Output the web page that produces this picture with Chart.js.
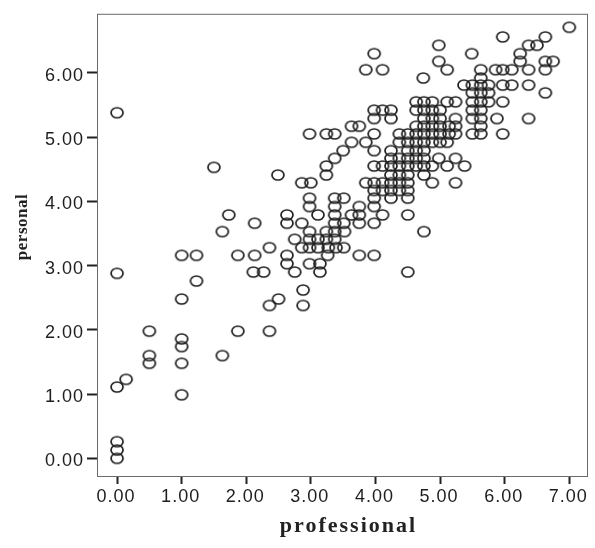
<!DOCTYPE html>
<html>
<head>
<meta charset="utf-8">
<script src="https://cdn.jsdelivr.net/npm/chart.js@4"></script>
<style>
  html, body { margin: 0; padding: 0; background: #fff; }
  #chart { display: block; }
</style>
</head>
<body>
<canvas id="chart" width="595" height="548"></canvas>
<script>
// --- Data (one line per row of circles) ---
const professional = [
    7.00,
    5.97, 6.63,
    4.98, 6.37, 6.50,
    3.98, 5.49, 6.24,
    4.98, 6.24, 6.63, 6.75,
    3.85, 4.11, 5.11, 5.63, 5.86, 5.97, 6.11, 6.37, 6.63,
    4.74, 5.63,
    5.37, 5.50, 5.63, 5.75, 5.97, 6.11, 6.37,
    5.50, 5.63, 5.75, 6.63,
    4.63, 4.75, 4.88, 5.11, 5.24, 5.50, 5.63, 5.75, 5.97,
    3.98, 4.11, 4.24, 4.63, 4.75, 4.88, 5.00, 5.50, 5.63,
    0.00,
    3.98, 4.24, 4.75, 4.88, 5.00, 5.24, 5.50, 5.63, 5.88, 6.37,
    3.63, 3.75, 4.63, 4.75, 4.88, 5.00, 5.14, 5.24, 5.63,
    2.98, 3.24, 3.37, 3.98, 4.37, 4.50, 4.63, 4.75, 4.88, 5.00, 5.14, 5.24, 5.50, 5.63, 5.97,
    3.63, 3.85, 4.37, 4.50, 4.63, 4.75, 4.88, 5.00, 5.11,
    3.50, 3.98, 4.24, 4.50, 4.63, 4.75,
    3.37, 4.24, 4.37, 4.50, 4.63, 4.75, 4.98, 5.24,
    1.50, 3.24, 3.98, 4.11, 4.24, 4.37, 4.50, 4.63, 4.75, 4.88, 5.11, 5.38,
    2.49, 3.24, 4.24, 4.37, 4.50, 4.75,
    2.86, 3.00, 3.85, 3.98, 4.11, 4.24, 4.37, 4.50, 4.88, 5.24,
    3.98, 4.11, 4.24, 4.37, 4.50,
    2.98, 3.37, 3.51, 3.98, 4.24, 4.50,
    2.98, 3.37, 3.75, 3.98,
    1.73, 2.63, 3.11, 3.37, 3.63, 3.75, 4.11, 4.50,
    2.13, 2.63, 2.86, 3.37, 3.51, 3.75, 3.98,
    1.63, 2.98, 3.24, 3.37, 3.52, 4.75,
    2.75, 2.98, 3.11, 3.24, 3.37,
    2.36, 2.86, 2.98, 3.11, 3.27, 3.39, 3.51,
    1.00, 1.23, 1.87, 2.13, 2.63, 3.26, 3.75, 3.98,
    2.63, 2.98, 3.14,
    0.00, 2.11, 2.27, 2.75, 3.14, 4.50,
    1.23,
    2.88,
    1.00, 2.50,
    2.36, 2.88,
    0.50, 1.87, 2.36,
    1.00,
    1.00,
    0.50, 1.63,
    0.50, 1.00,
    0.14,
    0.00,
    1.00,
    0.00,
    0.00,
    0.00
];
const personal = [
    6.71,
    6.56, 6.56,
    6.43, 6.43, 6.43,
    6.30, 6.30, 6.30,
    6.18, 6.18, 6.18, 6.18,
    6.05, 6.05, 6.05, 6.05, 6.05, 6.05, 6.05, 6.05, 6.05,
    5.92, 5.92,
    5.81, 5.81, 5.81, 5.81, 5.81, 5.81, 5.81,
    5.69, 5.69, 5.69, 5.69,
    5.55, 5.55, 5.55, 5.55, 5.55, 5.55, 5.55, 5.55, 5.55,
    5.42, 5.42, 5.42, 5.42, 5.42, 5.42, 5.42, 5.42, 5.42,
    5.38,
    5.29, 5.29, 5.29, 5.29, 5.29, 5.29, 5.29, 5.29, 5.29, 5.29,
    5.17, 5.17, 5.17, 5.17, 5.17, 5.17, 5.17, 5.17, 5.17,
    5.05, 5.05, 5.05, 5.05, 5.05, 5.05, 5.05, 5.05, 5.05, 5.05, 5.05, 5.05, 5.05, 5.05, 5.05,
    4.92, 4.92, 4.92, 4.92, 4.92, 4.92, 4.92, 4.92, 4.92,
    4.79, 4.79, 4.79, 4.79, 4.79, 4.79,
    4.67, 4.67, 4.67, 4.67, 4.67, 4.67, 4.67, 4.67,
    4.53, 4.55, 4.55, 4.55, 4.55, 4.55, 4.55, 4.55, 4.55, 4.55, 4.55, 4.55,
    4.41, 4.41, 4.41, 4.41, 4.41, 4.41,
    4.29, 4.29, 4.29, 4.29, 4.29, 4.29, 4.29, 4.29, 4.29, 4.29,
    4.17, 4.17, 4.17, 4.17, 4.17,
    4.05, 4.05, 4.05, 4.05, 4.05, 4.05,
    3.92, 3.92, 3.92, 3.92,
    3.79, 3.79, 3.79, 3.79, 3.79, 3.79, 3.79, 3.79,
    3.66, 3.66, 3.66, 3.66, 3.66, 3.66, 3.66,
    3.53, 3.53, 3.53, 3.53, 3.53, 3.53,
    3.41, 3.41, 3.41, 3.41, 3.41,
    3.28, 3.28, 3.28, 3.28, 3.28, 3.28, 3.28,
    3.16, 3.16, 3.16, 3.16, 3.16, 3.16, 3.16, 3.16,
    3.03, 3.03, 3.03,
    2.88, 2.90, 2.90, 2.90, 2.90, 2.90,
    2.76,
    2.62,
    2.48, 2.48,
    2.38, 2.38,
    1.98, 1.98, 1.98,
    1.86,
    1.74,
    1.60, 1.60,
    1.48, 1.48,
    1.23,
    1.11,
    0.99,
    0.26,
    0.13,
    0.00
];

const xTickValues = [0, 1, 2, 3, 4, 5, 6, 7];
const yTickValues = [0, 1, 2, 3, 4, 5, 6];
const xRange = [-0.31, 7.29];
const yRange = [-0.29, 6.92];
const xTitle = 'professional';
const yTitle = 'personal';

// --- Open elliptical marker like the original plot ---
const marker = (() => {
    const c = document.createElement('canvas');
    c.width = 16; c.height = 14;
    const g = c.getContext('2d');
    g.strokeStyle = '#1f1f1f';
    g.lineWidth = 1.7;
    g.beginPath();
    g.ellipse(8, 7, 6.0, 5.0, 0, 0, Math.PI * 2);
    g.stroke();
    return c;
})();

// frame round the plot area, spaced-out axis titles
const framePlugin = {
    id: 'frame',
    beforeDraw(chart) {
        chart.ctx.letterSpacing = '1px';
    },
    afterDraw(chart) {
        const { ctx, chartArea: a } = chart;
        ctx.save();
        ctx.strokeStyle = '#6a6a6a';
        ctx.lineWidth = 1;
        ctx.strokeRect(a.left + 0.5, a.top + 0.5, a.right - a.left - 1, a.bottom - a.top - 1);

        ctx.fillStyle = '#222';
        ctx.textAlign = 'center';
        ctx.textBaseline = 'middle';

        ctx.letterSpacing = '2px';
        ctx.font = 'bold 22px "Liberation Serif", "Times New Roman", serif';
        ctx.fillText(xTitle, (a.left + a.right) / 2 + 6, 526);

        ctx.letterSpacing = '0.5px';
        ctx.font = 'bold 17px "Liberation Serif", "Times New Roman", serif';
        ctx.translate(23, 227);
        ctx.rotate(-Math.PI / 2);
        ctx.fillText(yTitle, 0, 0);
        ctx.restore();
    }
};

const tickFont = { family: '"Liberation Sans", Arial, sans-serif', size: 18 };

new Chart(document.getElementById('chart'), {
    type: 'scatter',
    data: {
        datasets: [{
            data: professional.map((x, i) => ({ x, y: personal[i] })),
            pointStyle: marker,
            pointRadius: 6
        }]
    },
    options: {
        responsive: false,
        animation: false,
        layout: { padding: { top: 8, right: 4, left: 0, bottom: 0 } },
        plugins: { legend: { display: false }, tooltip: { enabled: false } },
        scales: {
            x: {
                type: 'linear',
                min: xRange[0],
                max: xRange[1],
                afterBuildTicks: s => { s.ticks = xTickValues.map(v => ({ value: v })); },
                afterFit: s => { s.height = 71; },
                border: { display: false },
                grid: { drawOnChartArea: false, drawTicks: true, tickLength: 7, tickWidth: 2, tickColor: '#222' },
                ticks: {
                    autoSkip: false, maxRotation: 0, padding: 2, labelOffset: -1,
                    color: '#1e1e1e', font: tickFont,
                    callback: v => Number(v).toFixed(2)
                },
                title: { display: false }
            },
            y: {
                type: 'linear',
                min: yRange[0],
                max: yRange[1],
                afterBuildTicks: s => { s.ticks = yTickValues.map(v => ({ value: v })); },
                afterFit: s => { s.width = 97; },
                border: { display: false },
                grid: { drawOnChartArea: false, drawTicks: true, tickLength: 10, tickWidth: 2, tickColor: '#222' },
                ticks: {
                    padding: 3, labelOffset: 3,
                    color: '#1e1e1e', font: tickFont,
                    callback: v => Number(v).toFixed(2)
                },
                title: { display: false }
            }
        }
    },
    plugins: [framePlugin]
});
</script>
</body>
</html>
